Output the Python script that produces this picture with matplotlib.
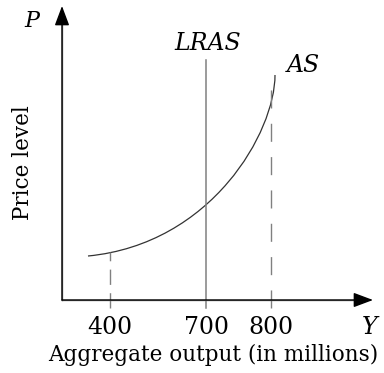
import numpy as np
import matplotlib
matplotlib.use('Agg')
import matplotlib.pyplot as plt
from matplotlib.path import Path
from matplotlib.patches import PathPatch

# schematic units (horizontal / vertical distance from the origin)
# AS curve as one cubic bezier: start, ctrl, ctrl, end
as_x = [26, 150, 213, 213]
as_y = [44, 56, 168, 225]

tick_pos = [48, 144, 209]
tick_lab = ['400', '700', '800']
lras_x = 144
lras_top = 240
dash_top = [48, 225]   # top of dashed guides at 400 and 800

plt.rcParams['font.family'] = 'DejaVu Serif'

fig = plt.figure(figsize=(3.84, 3.73), dpi=100)
ax = fig.add_axes([0, 0, 1, 1])
ax.set_xlim(-62, 322)
ax.set_ylim(-73, 300)
ax.axis('off')

gray = '#808080'
# axes with arrows
ax.annotate('', xy=(0, 294), xytext=(0, 0),
            arrowprops=dict(arrowstyle='-|>,head_length=1.2,head_width=0.45', color='black', lw=1.0,
                            shrinkA=0, shrinkB=0))
ax.plot([0, 0], [0, 280], color=gray, lw=1.0)
ax.annotate('', xy=(311, 0), xytext=(0, 0),
            arrowprops=dict(arrowstyle='-|>,head_length=1.2,head_width=0.45', color='black', lw=1.0,
                            shrinkA=0, shrinkB=0))
ax.plot([0, 300], [0, 0], color=gray, lw=1.0)

# LRAS
ax.plot([lras_x, lras_x], [-8, lras_top], color=gray, lw=1.1)
# dashed guides
ax.plot([tick_pos[0], tick_pos[0]], [-8, dash_top[0]], color=gray, lw=1.0, ls=(0, (11, 6)))
ax.plot([tick_pos[2], tick_pos[2]], [-8, dash_top[1]], color=gray, lw=1.0, ls=(0, (13, 11)))

# AS curve
codes = [Path.MOVETO, Path.CURVE4, Path.CURVE4, Path.CURVE4]
ax.add_patch(PathPatch(Path(np.column_stack([as_x, as_y]), codes),
                       fc='none', ec='#333333', lw=0.9))

for p, l in zip(tick_pos, tick_lab):
    ax.text(p, -27, l, ha='center', va='center', fontsize=17)
ax.text(308, -27, 'Y', ha='center', va='center', fontsize=17, style='italic')
ax.text(151, -55, 'Aggregate output (in millions)', ha='center', va='center', fontsize=15.5)
ax.text(-39, 137, 'Price level', ha='center', va='center', fontsize=15.5, rotation=90)
ax.text(-30, 279, 'P', ha='center', va='center', fontsize=16, style='italic')
ax.text(146, 256, 'LRAS', ha='center', va='center', fontsize=17, style='italic')
ax.text(241, 234, 'AS', ha='center', va='center', fontsize=17, style='italic')

fig.savefig('out.png', dpi=100)
